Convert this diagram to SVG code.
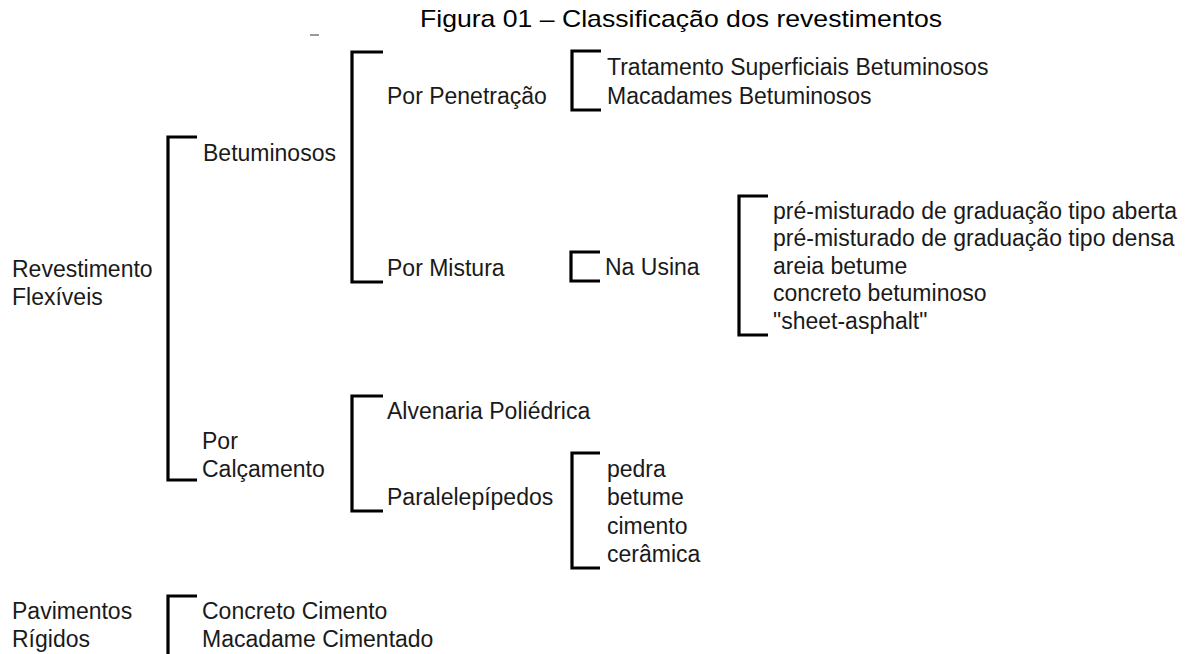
<svg xmlns="http://www.w3.org/2000/svg" width="1188" height="654" viewBox="0 0 1188 654">
<style>
text { font-family: "Liberation Sans", Arial, sans-serif; font-size: 23px; fill: #1a1a1a; }
.title { font-size: 24px; fill: #000; }
.br { fill: none; stroke: #000; stroke-width: 3.2; stroke-linejoin: miter; stroke-linecap: butt; }
</style>
<rect width="1188" height="654" fill="#fff"/>
<text class="title" x="420" y="27" textLength="522" lengthAdjust="spacingAndGlyphs">Figura 01 – Classificação dos revestimentos</text>
<rect x="310" y="34" width="9" height="2" fill="#999"/>
<g id="connectors">
  <path class="br" d="M197,137 H168 V480 H197"/>
  <path class="br" d="M383,52 H352 V282 H383"/>
  <path class="br" d="M601,51 H572 V110 H601"/>
  <path class="br" d="M600,252 H571 V281 H600"/>
  <path class="br" d="M768,196 H739 V335 H768"/>
  <path class="br" d="M383,396 H352 V511 H383"/>
  <path class="br" d="M600,453 H572 V568 H600"/>
  <path class="br" d="M197,596 H168 V660"/>
</g>
<g id="revestimento-flexiveis"><text x="12" y="276.5">Revestimento</text><text x="12" y="304.5">Flexíveis</text></g>
<g id="betuminosos"><text x="203" y="160.5">Betuminosos</text></g>
<g id="por-calcamento"><text x="202" y="448.5">Por</text><text x="202" y="476.5">Calçamento</text></g>
<g id="por-penetracao"><text x="387" y="103.5">Por Penetração</text></g>
<g id="por-mistura"><text x="387" y="275.5">Por Mistura</text></g>
<g id="penetracao-tipos"><text x="607" y="74.5">Tratamento Superficiais Betuminosos</text><text x="607" y="103.5">Macadames Betuminosos</text></g>
<g id="na-usina"><text x="605" y="274.5">Na Usina</text></g>
<g id="usina-tipos">
  <text x="773" y="218.5">pré-misturado de graduação tipo aberta</text>
  <text x="773" y="246">pré-misturado de graduação tipo densa</text>
  <text x="773" y="273.5">areia betume</text>
  <text x="773" y="301">concreto betuminoso</text>
  <text x="773" y="328.5">"sheet-asphalt"</text>
</g>
<g id="alvenaria"><text x="387" y="418.5">Alvenaria Poliédrica</text></g>
<g id="paralelepipedos"><text x="387" y="504.5">Paralelepípedos</text></g>
<g id="paralelepipedos-tipos">
  <text x="607" y="476.5">pedra</text>
  <text x="607" y="504.5">betume</text>
  <text x="607" y="533.5">cimento</text>
  <text x="607" y="561.5">cerâmica</text>
</g>
<g id="pavimentos-rigidos"><text x="12" y="618.5">Pavimentos</text><text x="12" y="646.5">Rígidos</text></g>
<g id="rigidos-tipos"><text x="202" y="618.5">Concreto Cimento</text><text x="202" y="646.5">Macadame Cimentado</text></g>
</svg>
